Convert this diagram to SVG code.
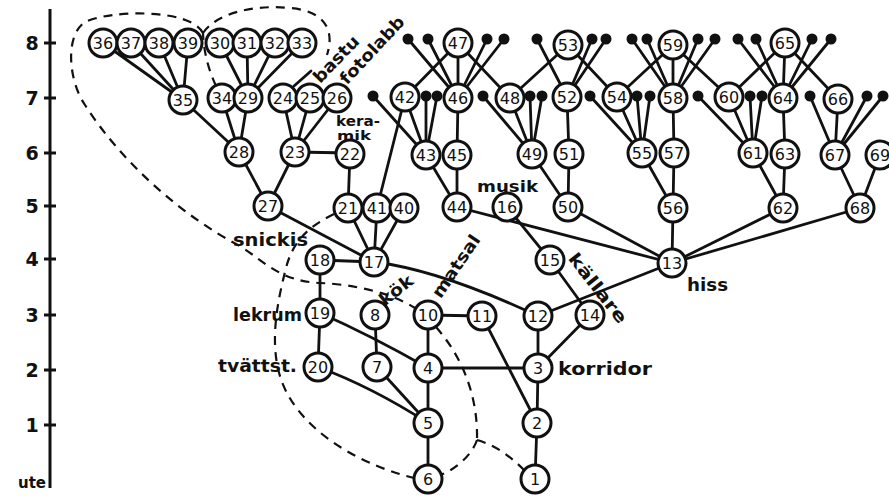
<svg xmlns="http://www.w3.org/2000/svg" width="889" height="496" viewBox="0 0 889 496">
<style>
  .e { stroke:#111; stroke-width:2.8; fill:none; stroke-linecap:round; }
  .dash { stroke:#111; stroke-width:2.2; fill:none; stroke-dasharray:9 7; }
  .n circle { fill:#fff; stroke:#111; stroke-width:3; }
  .n text { font-family:"DejaVu Sans", sans-serif; font-size:16px; text-anchor:middle; dominant-baseline:central; fill:#111; }
  .d circle { fill:#111; }
  .ax { stroke:#111; stroke-width:3; }
  .axl { font-family:"DejaVu Sans", sans-serif; font-size:19px; font-weight:bold; text-anchor:middle; fill:#111; }
  .lbl { font-family:"DejaVu Sans", sans-serif; font-size:17px; font-weight:bold; fill:#111; }
</style>
<rect width="889" height="496" fill="#fff"/>

<!-- level axis -->
<g id="axis">
  <line class="ax" x1="50" y1="9" x2="50" y2="488"/>
  <g class="ax">
    <line x1="44" y1="43" x2="56" y2="43"/>
    <line x1="44" y1="98" x2="56" y2="98"/>
    <line x1="44" y1="153" x2="56" y2="153"/>
    <line x1="44" y1="206" x2="56" y2="206"/>
    <line x1="44" y1="259" x2="56" y2="259"/>
    <line x1="44" y1="315" x2="56" y2="315"/>
    <line x1="44" y1="370" x2="56" y2="370"/>
    <line x1="44" y1="425" x2="56" y2="425"/>
  </g>
  <text class="axl" x="32" y="50">8</text>
  <text class="axl" x="32" y="105">7</text>
  <text class="axl" x="32" y="160">6</text>
  <text class="axl" x="32" y="213">5</text>
  <text class="axl" x="32" y="266">4</text>
  <text class="axl" x="32" y="322">3</text>
  <text class="axl" x="32" y="377">2</text>
  <text class="axl" x="32" y="432">1</text>
  <text class="axl" x="46" y="488" style="text-anchor:end;font-size:15px">ute</text>
</g>

<!-- dashed zone outlines -->
<g id="zones">
  <path class="dash" d="M216 86 Q204 60 203 33"/>
  <path class="dash" d="M203 33 C190 8 110 10 85 22 C65 35 68 80 85 105 C120 160 180 215 240 246 C265 262 280 281 320 283 C350 284 390 292 415 308"/>
  <path class="dash" d="M203 33 C215 15 250 4 290 8 C325 11 335 30 327 55"/>
  <path class="dash" d="M436 327 C465 360 478 400 477 440"/>
  <path class="dash" d="M477 440 C472 455 455 470 440 475"/>
  <path class="dash" d="M477 440 C495 445 510 456 524 470"/>
  <path class="dash" d="M334 214 C310 226 292 240 285 272 C278 300 268 345 282 382 C298 425 350 462 414 478"/>
</g>

<!-- connectors -->
<g id="connectors" class="e">
  <line x1="103" y1="43" x2="183" y2="100"/>
  <line x1="131" y1="43" x2="183" y2="100"/>
  <line x1="159" y1="43" x2="183" y2="100"/>
  <line x1="188" y1="43" x2="183" y2="100"/>
  <line x1="220" y1="43" x2="248" y2="98"/>
  <line x1="247" y1="43" x2="248" y2="98"/>
  <line x1="275" y1="43" x2="248" y2="98"/>
  <line x1="302" y1="43" x2="248" y2="98"/>
  <line x1="183" y1="100" x2="239" y2="152"/>
  <line x1="222" y1="98" x2="239" y2="152"/>
  <line x1="248" y1="98" x2="239" y2="152"/>
  <line x1="283" y1="98" x2="295" y2="152"/>
  <line x1="310" y1="98" x2="295" y2="152"/>
  <line x1="337" y1="98" x2="295" y2="152"/>
  <line x1="294" y1="86" x2="311" y2="71"/>
  <line x1="239" y1="152" x2="268" y2="206"/>
  <line x1="295" y1="152" x2="268" y2="206"/>
  <line x1="295" y1="152" x2="350" y2="153"/>
  <line x1="350" y1="153" x2="348" y2="208"/>
  <line x1="268" y1="206" x2="374" y2="262"/>
  <line x1="348" y1="208" x2="374" y2="262"/>
  <line x1="377" y1="208" x2="374" y2="262"/>
  <line x1="404" y1="208" x2="374" y2="262"/>
  <line x1="377" y1="208" x2="405" y2="97"/>
  <line x1="320" y1="260" x2="374" y2="262"/>
  <line x1="320" y1="260" x2="320" y2="313"/>
  <line x1="320" y1="313" x2="318" y2="367"/>
  <path d="M320 313 Q370 335 428 368"/>
  <path d="M318 367 Q372 387 428 423"/>
  <path d="M374 262 Q440 270 538 316"/>
  <line x1="375" y1="315" x2="377" y2="367"/>
  <line x1="377" y1="367" x2="428" y2="423"/>
  <line x1="428" y1="315" x2="428" y2="368"/>
  <line x1="428" y1="368" x2="428" y2="423"/>
  <line x1="428" y1="423" x2="428" y2="479"/>
  <line x1="428" y1="315" x2="482" y2="316"/>
  <line x1="482" y1="316" x2="537" y2="423"/>
  <line x1="428" y1="368" x2="538" y2="368"/>
  <line x1="538" y1="316" x2="538" y2="368"/>
  <line x1="538" y1="368" x2="537" y2="423"/>
  <line x1="537" y1="423" x2="535" y2="479"/>
  <line x1="538" y1="368" x2="590" y2="315"/>
  <line x1="538" y1="316" x2="672" y2="263"/>
  <line x1="507" y1="207" x2="550" y2="260"/>
  <line x1="550" y1="260" x2="590" y2="315"/>
  <line x1="457" y1="207" x2="672" y2="263"/>
  <line x1="568" y1="207" x2="672" y2="263"/>
  <line x1="673" y1="208" x2="672" y2="263"/>
  <line x1="783" y1="208" x2="672" y2="263"/>
  <line x1="860" y1="208" x2="672" y2="263"/>
  <line x1="426" y1="155" x2="457" y2="207"/>
  <line x1="457" y1="155" x2="457" y2="207"/>
  <line x1="457" y1="155" x2="458" y2="98"/>
  <line x1="405" y1="97" x2="426" y2="155"/>
  <line x1="458" y1="98" x2="458" y2="43"/>
  <line x1="405" y1="97" x2="458" y2="43"/>
  <line x1="458" y1="43" x2="510" y2="98"/>
  <line x1="510" y1="98" x2="568" y2="45"/>
  <line x1="510" y1="98" x2="532" y2="154"/>
  <line x1="532" y1="154" x2="568" y2="207"/>
  <line x1="569" y1="154" x2="568" y2="207"/>
  <line x1="567" y1="97" x2="569" y2="154"/>
  <line x1="568" y1="45" x2="617" y2="97"/>
  <line x1="617" y1="97" x2="642" y2="153"/>
  <line x1="642" y1="153" x2="673" y2="208"/>
  <line x1="674" y1="153" x2="673" y2="208"/>
  <line x1="673" y1="98" x2="674" y2="153"/>
  <line x1="673" y1="98" x2="673" y2="45"/>
  <line x1="617" y1="97" x2="673" y2="45"/>
  <line x1="673" y1="45" x2="729" y2="97"/>
  <line x1="729" y1="97" x2="785" y2="43"/>
  <line x1="785" y1="43" x2="838" y2="99"/>
  <line x1="729" y1="97" x2="753" y2="153"/>
  <line x1="753" y1="153" x2="783" y2="208"/>
  <line x1="785" y1="154" x2="783" y2="208"/>
  <line x1="783" y1="98" x2="785" y2="154"/>
  <line x1="783" y1="98" x2="785" y2="43"/>
  <line x1="838" y1="99" x2="835" y2="155"/>
  <line x1="835" y1="155" x2="860" y2="208"/>
  <line x1="880" y1="155" x2="860" y2="208"/>
  <!-- open stubs, upper row -->
  <line x1="408" y1="39" x2="458" y2="98"/>
  <line x1="428" y1="39" x2="458" y2="98"/>
  <line x1="487" y1="39" x2="458" y2="98"/>
  <line x1="504" y1="39" x2="458" y2="98"/>
  <line x1="537" y1="39" x2="567" y2="97"/>
  <line x1="592" y1="39" x2="567" y2="97"/>
  <line x1="606" y1="39" x2="567" y2="97"/>
  <line x1="632" y1="39" x2="673" y2="98"/>
  <line x1="647" y1="39" x2="673" y2="98"/>
  <line x1="698" y1="39" x2="673" y2="98"/>
  <line x1="715" y1="39" x2="673" y2="98"/>
  <line x1="738" y1="39" x2="783" y2="98"/>
  <line x1="756" y1="39" x2="783" y2="98"/>
  <line x1="812" y1="39" x2="783" y2="98"/>
  <line x1="831" y1="39" x2="783" y2="98"/>
  <!-- open stubs, lower row -->
  <line x1="373" y1="96" x2="426" y2="155"/>
  <line x1="426" y1="96" x2="426" y2="155"/>
  <line x1="437" y1="96" x2="426" y2="155"/>
  <line x1="483" y1="96" x2="532" y2="154"/>
  <line x1="530" y1="96" x2="532" y2="154"/>
  <line x1="542" y1="96" x2="532" y2="154"/>
  <line x1="590" y1="96" x2="642" y2="153"/>
  <line x1="637" y1="96" x2="642" y2="153"/>
  <line x1="650" y1="96" x2="642" y2="153"/>
  <line x1="698" y1="96" x2="753" y2="153"/>
  <line x1="750" y1="96" x2="753" y2="153"/>
  <line x1="762" y1="96" x2="753" y2="153"/>
  <line x1="810" y1="96" x2="835" y2="155"/>
  <line x1="867" y1="96" x2="835" y2="155"/>
  <line x1="883" y1="96" x2="835" y2="155"/>
</g>

<!-- open stub ends -->
<g id="stubs" class="d">
  <g id="s408"><circle cx="408" cy="39" r="5.5"/></g>
  <g id="s428"><circle cx="428" cy="39" r="5.5"/></g>
  <g id="s487"><circle cx="487" cy="39" r="5.5"/></g>
  <g id="s504"><circle cx="504" cy="39" r="5.5"/></g>
  <g id="s537"><circle cx="537" cy="39" r="5.5"/></g>
  <g id="s592"><circle cx="592" cy="39" r="5.5"/></g>
  <g id="s606"><circle cx="606" cy="39" r="5.5"/></g>
  <g id="s632"><circle cx="632" cy="39" r="5.5"/></g>
  <g id="s647"><circle cx="647" cy="39" r="5.5"/></g>
  <g id="s698"><circle cx="698" cy="39" r="5.5"/></g>
  <g id="s715"><circle cx="715" cy="39" r="5.5"/></g>
  <g id="s738"><circle cx="738" cy="39" r="5.5"/></g>
  <g id="s756"><circle cx="756" cy="39" r="5.5"/></g>
  <g id="s812"><circle cx="812" cy="39" r="5.5"/></g>
  <g id="s831"><circle cx="831" cy="39" r="5.5"/></g>
  <g id="t373"><circle cx="373" cy="96" r="5.5"/></g>
  <g id="t426"><circle cx="426" cy="96" r="5.5"/></g>
  <g id="t437"><circle cx="437" cy="96" r="5.5"/></g>
  <g id="t483"><circle cx="483" cy="96" r="5.5"/></g>
  <g id="t530"><circle cx="530" cy="96" r="5.5"/></g>
  <g id="t542"><circle cx="542" cy="96" r="5.5"/></g>
  <g id="t590"><circle cx="590" cy="96" r="5.5"/></g>
  <g id="t637"><circle cx="637" cy="96" r="5.5"/></g>
  <g id="t650"><circle cx="650" cy="96" r="5.5"/></g>
  <g id="t698"><circle cx="698" cy="96" r="5.5"/></g>
  <g id="t750"><circle cx="750" cy="96" r="5.5"/></g>
  <g id="t762"><circle cx="762" cy="96" r="5.5"/></g>
  <g id="t810"><circle cx="810" cy="96" r="5.5"/></g>
  <g id="t867"><circle cx="867" cy="96" r="5.5"/></g>
  <g id="t883"><circle cx="883" cy="96" r="5.5"/></g>
</g>

<!-- rooms -->
<g id="n36" class="n"><circle cx="103" cy="43" r="14"/><text x="103" y="43">36</text></g>
<g id="n37" class="n"><circle cx="131" cy="43" r="14"/><text x="131" y="43">37</text></g>
<g id="n38" class="n"><circle cx="159" cy="43" r="14"/><text x="159" y="43">38</text></g>
<g id="n39" class="n"><circle cx="188" cy="43" r="14"/><text x="188" y="43">39</text></g>
<g id="n30" class="n"><circle cx="220" cy="43" r="14"/><text x="220" y="43">30</text></g>
<g id="n31" class="n"><circle cx="247" cy="43" r="14"/><text x="247" y="43">31</text></g>
<g id="n32" class="n"><circle cx="275" cy="43" r="14"/><text x="275" y="43">32</text></g>
<g id="n33" class="n"><circle cx="302" cy="43" r="14"/><text x="302" y="43">33</text></g>
<g id="n35" class="n"><circle cx="183" cy="100" r="14"/><text x="183" y="100">35</text></g>
<g id="n34" class="n"><circle cx="222" cy="98" r="14"/><text x="222" y="98">34</text></g>
<g id="n29" class="n"><circle cx="248" cy="98" r="14"/><text x="248" y="98">29</text></g>
<g id="n24" class="n"><circle cx="283" cy="98" r="14"/><text x="283" y="98">24</text></g>
<g id="n25" class="n"><circle cx="310" cy="98" r="14"/><text x="310" y="98">25</text></g>
<g id="n26" class="n"><circle cx="337" cy="98" r="14"/><text x="337" y="98">26</text></g>
<g id="n28" class="n"><circle cx="239" cy="152" r="14"/><text x="239" y="152">28</text></g>
<g id="n23" class="n"><circle cx="295" cy="152" r="14"/><text x="295" y="152">23</text></g>
<g id="n22" class="n"><circle cx="350" cy="154" r="14"/><text x="350" y="154">22</text></g>
<g id="n27" class="n"><circle cx="268" cy="206" r="14"/><text x="268" y="206">27</text></g>
<g id="n21" class="n"><circle cx="348" cy="208" r="14"/><text x="348" y="208">21</text></g>
<g id="n41" class="n"><circle cx="377" cy="208" r="14"/><text x="377" y="208">41</text></g>
<g id="n40" class="n"><circle cx="404" cy="208" r="14"/><text x="404" y="208">40</text></g>
<g id="n18" class="n"><circle cx="320" cy="260" r="14"/><text x="320" y="260">18</text></g>
<g id="n17" class="n"><circle cx="374" cy="262" r="14"/><text x="374" y="262">17</text></g>
<g id="n19" class="n"><circle cx="320" cy="313" r="14"/><text x="320" y="313">19</text></g>
<g id="n8" class="n"><circle cx="375" cy="315" r="14"/><text x="375" y="315">8</text></g>
<g id="n10" class="n"><circle cx="428" cy="315" r="14"/><text x="428" y="315">10</text></g>
<g id="n11" class="n"><circle cx="482" cy="316" r="14"/><text x="482" y="316">11</text></g>
<g id="n12" class="n"><circle cx="538" cy="316" r="14"/><text x="538" y="316">12</text></g>
<g id="n14" class="n"><circle cx="590" cy="315" r="14"/><text x="590" y="315">14</text></g>
<g id="n20" class="n"><circle cx="318" cy="367" r="14"/><text x="318" y="367">20</text></g>
<g id="n7" class="n"><circle cx="377" cy="367" r="14"/><text x="377" y="367">7</text></g>
<g id="n4" class="n"><circle cx="428" cy="368" r="14"/><text x="428" y="368">4</text></g>
<g id="n3" class="n"><circle cx="538" cy="368" r="14"/><text x="538" y="368">3</text></g>
<g id="n5" class="n"><circle cx="428" cy="423" r="14"/><text x="428" y="423">5</text></g>
<g id="n2" class="n"><circle cx="537" cy="423" r="14"/><text x="537" y="423">2</text></g>
<g id="n6" class="n"><circle cx="428" cy="479" r="14"/><text x="428" y="479">6</text></g>
<g id="n1" class="n"><circle cx="535" cy="479" r="14"/><text x="535" y="479">1</text></g>
<g id="n15" class="n"><circle cx="550" cy="260" r="14"/><text x="550" y="260">15</text></g>
<g id="n16" class="n"><circle cx="507" cy="207" r="14"/><text x="507" y="207">16</text></g>
<g id="n13" class="n"><circle cx="672" cy="263" r="14"/><text x="672" y="263">13</text></g>
<g id="n42" class="n"><circle cx="405" cy="97" r="14"/><text x="405" y="97">42</text></g>
<g id="n46" class="n"><circle cx="458" cy="98" r="14"/><text x="458" y="98">46</text></g>
<g id="n48" class="n"><circle cx="510" cy="98" r="14"/><text x="510" y="98">48</text></g>
<g id="n52" class="n"><circle cx="567" cy="97" r="14"/><text x="567" y="97">52</text></g>
<g id="n54" class="n"><circle cx="617" cy="97" r="14"/><text x="617" y="97">54</text></g>
<g id="n58" class="n"><circle cx="673" cy="98" r="14"/><text x="673" y="98">58</text></g>
<g id="n60" class="n"><circle cx="729" cy="97" r="14"/><text x="729" y="97">60</text></g>
<g id="n64" class="n"><circle cx="783" cy="98" r="14"/><text x="783" y="98">64</text></g>
<g id="n66" class="n"><circle cx="838" cy="99" r="14"/><text x="838" y="99">66</text></g>
<g id="n47" class="n"><circle cx="458" cy="43" r="14"/><text x="458" y="43">47</text></g>
<g id="n53" class="n"><circle cx="568" cy="45" r="14"/><text x="568" y="45">53</text></g>
<g id="n59" class="n"><circle cx="673" cy="45" r="14"/><text x="673" y="45">59</text></g>
<g id="n65" class="n"><circle cx="785" cy="43" r="14"/><text x="785" y="43">65</text></g>
<g id="n43" class="n"><circle cx="426" cy="155" r="14"/><text x="426" y="155">43</text></g>
<g id="n45" class="n"><circle cx="457" cy="155" r="14"/><text x="457" y="155">45</text></g>
<g id="n49" class="n"><circle cx="532" cy="154" r="14"/><text x="532" y="154">49</text></g>
<g id="n51" class="n"><circle cx="569" cy="154" r="14"/><text x="569" y="154">51</text></g>
<g id="n55" class="n"><circle cx="642" cy="153" r="14"/><text x="642" y="153">55</text></g>
<g id="n57" class="n"><circle cx="674" cy="153" r="14"/><text x="674" y="153">57</text></g>
<g id="n61" class="n"><circle cx="753" cy="153" r="14"/><text x="753" y="153">61</text></g>
<g id="n63" class="n"><circle cx="785" cy="154" r="14"/><text x="785" y="154">63</text></g>
<g id="n67" class="n"><circle cx="835" cy="155" r="14"/><text x="835" y="155">67</text></g>
<g id="n69" class="n"><circle cx="880" cy="155" r="14"/><text x="880" y="155">69</text></g>
<g id="n44" class="n"><circle cx="457" cy="207" r="14"/><text x="457" y="207">44</text></g>
<g id="n50" class="n"><circle cx="568" cy="207" r="14"/><text x="568" y="207">50</text></g>
<g id="n56" class="n"><circle cx="673" cy="208" r="14"/><text x="673" y="208">56</text></g>
<g id="n62" class="n"><circle cx="783" cy="208" r="14"/><text x="783" y="208">62</text></g>
<g id="n68" class="n"><circle cx="860" cy="208" r="14"/><text x="860" y="208">68</text></g>

<!-- room names -->
<g id="labels" class="lbl">
  <text transform="translate(336,59) rotate(-46)" text-anchor="middle" y="6" textLength="58" lengthAdjust="spacingAndGlyphs">bastu</text>
  <text transform="translate(372,50) rotate(-47)" text-anchor="middle" y="6" textLength="86" lengthAdjust="spacingAndGlyphs">fotolabb</text>
  <text x="336" y="126" textLength="44" lengthAdjust="spacingAndGlyphs" style="font-size:14px">kera-</text>
  <text x="337" y="140" textLength="34" lengthAdjust="spacingAndGlyphs" style="font-size:13px">mik</text>
  <text x="233" y="246" textLength="75" lengthAdjust="spacingAndGlyphs">snickis</text>
  <text x="477" y="192" textLength="61" lengthAdjust="spacingAndGlyphs" style="font-size:16px">musik</text>
  <text x="233" y="321" textLength="69" lengthAdjust="spacingAndGlyphs">lekrum</text>
  <text x="218" y="372" textLength="79" lengthAdjust="spacingAndGlyphs">tvättst.</text>
  <text x="558" y="375" textLength="94" lengthAdjust="spacingAndGlyphs">korridor</text>
  <text x="687" y="291" textLength="41" lengthAdjust="spacingAndGlyphs">hiss</text>
  <text transform="translate(396,290) rotate(-38)" text-anchor="middle" y="6" textLength="38" lengthAdjust="spacingAndGlyphs">kök</text>
  <text transform="translate(456,266) rotate(-56)" text-anchor="middle" y="6" textLength="72" lengthAdjust="spacingAndGlyphs">matsal</text>
  <text transform="translate(598,288) rotate(52)" text-anchor="middle" y="6" textLength="84" lengthAdjust="spacingAndGlyphs">källare</text>
</g>
</svg>
